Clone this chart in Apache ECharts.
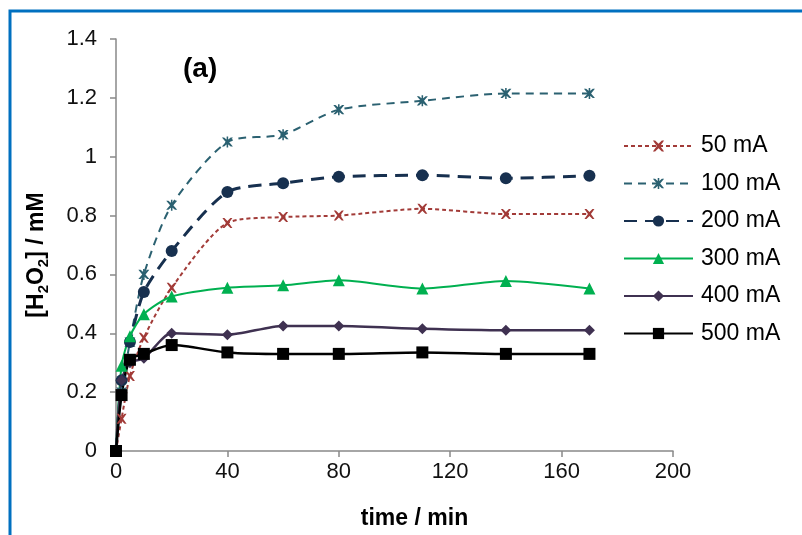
<!DOCTYPE html>
<html>
<head>
<meta charset="utf-8">
<script src="https://cdn.jsdelivr.net/npm/echarts@6/dist/echarts.min.js"></script>
<style>
  html, body { margin: 0; padding: 0; background: #fff; }
  #chart { width: 802px; height: 535px; }
</style>
</head>
<body>
<div id="chart"></div>
<script>
// Sampling times (min)
var times = [0, 2, 5, 10, 20, 40, 60, 80, 110, 140, 170];

// H2O2 concentration (mM) for each applied current
var seriesNames = ['50 mA', '100 mA', '200 mA', '300 mA', '400 mA', '500 mA'];
var h2o2_50  = [0, 0.11, 0.255, 0.385, 0.555, 0.775, 0.795, 0.80, 0.823, 0.805, 0.805];
var h2o2_100 = [0, 0.20, 0.37, 0.60, 0.835, 1.05, 1.075, 1.16, 1.19, 1.215, 1.215];
var h2o2_200 = [0, 0.24, 0.37, 0.54, 0.68, 0.88, 0.91, 0.932, 0.937, 0.927, 0.935];
var h2o2_300 = [0, 0.29, 0.39, 0.465, 0.525, 0.555, 0.563, 0.58, 0.552, 0.578, 0.552];
var h2o2_400 = [0, 0.24, 0.30, 0.315, 0.40, 0.395, 0.425, 0.425, 0.415, 0.41, 0.41];
var h2o2_500 = [0, 0.19, 0.31, 0.33, 0.36, 0.335, 0.33, 0.33, 0.335, 0.33, 0.33];

// Axis ticks
var xTicks = { min: 0, max: 200, interval: 40 };
var yTicks = { min: 0, max: 1.4, interval: 0.2 };

function pairs(vals) {
  return times.map(function (t, i) { return [t, vals[i]]; });
}

var FONT = '"Liberation Sans", Arial, sans-serif';
var crossPath = 'path://M0,0 L2,0 L5,3 L8,0 L10,0 L6.5,5 L10,10 L8,10 L5,7 L2,10 L0,10 L3.5,5 Z';
var starPath = 'path://M0,0 L2,0 L5,3 L8,0 L10,0 L6.5,5 L10,10 L8,10 L5,7 L2,10 L0,10 L3.5,5 Z M4.3,-1 L5.7,-1 L5.7,11 L4.3,11 Z';

function makeSeries(name, vals, color, dash, width, symbol, size) {
  return {
    name: name,
    type: 'line',
    data: pairs(vals),
    smooth: 0.25,
    symbol: symbol,
    symbolSize: size,
    showAllSymbol: true,
    lineStyle: { color: color, width: width, type: dash },
    itemStyle: { color: color, borderColor: color, borderWidth: 0, opacity: 1 },
    emphasis: { disabled: true },
    z: 2
  };
}

var chart = echarts.init(document.getElementById('chart'), null, { renderer: 'canvas' });

var option = {
  animation: false,
  backgroundColor: '#ffffff',
  textStyle: { fontFamily: FONT },
  grid: { left: 116, right: 129, top: 39, bottom: 83, containLabel: false },
  graphic: [
    {
      type: 'rect',
      shape: { x: 10, y: 11, width: 1200, height: 1200 },
      style: { fill: 'none', stroke: '#0070C0', lineWidth: 3 },
      silent: true,
      z: 100
    },
    {
      type: 'text',
      left: 183,
      top: 55,
      style: { text: '(a)', font: 'bold 28px ' + FONT, fill: '#000' },
      silent: true
    }
  ],
  legend: {
    orient: 'vertical',
    left: 618,
    top: 129,
    itemWidth: 69,
    itemHeight: 14,
    itemGap: 13.5,
    data: seriesNames,
    textStyle: { fontSize: 23, lineHeight: 24, color: '#000', fontFamily: FONT, padding: [0, 0, 0, 3] },
    selectedMode: false
  },
  xAxis: {
    type: 'value',
    min: xTicks.min,
    max: xTicks.max,
    interval: xTicks.interval,
    name: 'time / min',
    nameLocation: 'middle',
    nameGap: 56,
    nameTextStyle: { fontSize: 23, fontWeight: 'bold', color: '#000', fontFamily: FONT, padding: [0, 0, 0, 40] },
    axisLine: { show: true, lineStyle: { color: '#898989', width: 1.5 } },
    axisTick: { show: true, length: 6, lineStyle: { color: '#898989', width: 1.5 } },
    axisLabel: { fontSize: 22, color: '#111', margin: 10, fontFamily: FONT },
    splitLine: { show: false }
  },
  yAxis: {
    type: 'value',
    min: yTicks.min,
    max: yTicks.max,
    interval: yTicks.interval,
    name: '{b|[H}{s|2}{b|O}{s|2}{b|] / mM}',
    nameLocation: 'middle',
    nameRotate: 90,
    nameGap: 65,
    nameTextStyle: {
      color: '#000',
      padding: [0, 20, 0, 0],
      rich: {
        b: { fontSize: 23, fontWeight: 'bold', fontFamily: FONT, color: '#000', lineHeight: 28, verticalAlign: 'middle' },
        s: { fontSize: 15, fontWeight: 'bold', fontFamily: FONT, color: '#000', lineHeight: 28, verticalAlign: 'bottom', padding: [9, 0, 0, 0] }
      }
    },
    axisLine: { show: true, lineStyle: { color: '#898989', width: 1.5 } },
    axisTick: { show: true, length: 6, lineStyle: { color: '#898989', width: 1.5 } },
    axisLabel: { fontSize: 22, color: '#111', margin: 19, fontFamily: FONT },
    splitLine: { show: false }
  },
  series: [
    makeSeries('50 mA', h2o2_50, '#A23B38', [4, 3], 2, crossPath, 10),
    makeSeries('100 mA', h2o2_100, '#2B6171', [8, 6], 2, starPath, 11),
    makeSeries('200 mA', h2o2_200, '#17304F', [13, 8], 3, 'circle', 12),
    makeSeries('300 mA', h2o2_300, '#00B050', 'solid', 2, 'triangle', 12),
    makeSeries('400 mA', h2o2_400, '#3F3151', 'solid', 2.5, 'diamond', 11),
    makeSeries('500 mA', h2o2_500, '#000000', 'solid', 2.5, 'rect', 12)
  ]
};

chart.setOption(option);
</script>
</body>
</html>
